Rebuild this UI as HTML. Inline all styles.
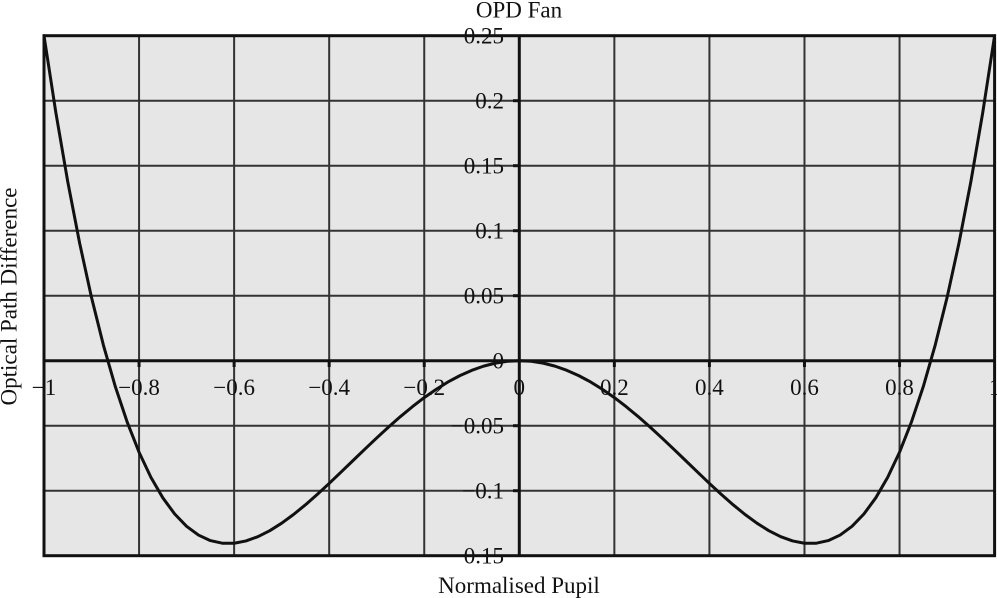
<!DOCTYPE html>
<html>
<head>
<meta charset="utf-8">
<style>
html,body{margin:0;padding:0;background:#fff;}
svg{display:block;}
text{font-family:"Liberation Serif","DejaVu Serif",serif;fill:#111;}
</style>
</head>
<body>
<svg width="997" height="598" viewBox="0 0 997 598" xmlns="http://www.w3.org/2000/svg">
  <rect x="0" y="0" width="997" height="598" fill="#fff"/>
  <!-- plot background -->
  <rect x="44" y="35.7" width="950.6" height="520" fill="#e6e6e6"/>
  <!-- grid -->
  <g stroke="#333" stroke-width="2">
    <line x1="139.06" y1="35.7" x2="139.06" y2="555.7"/>
    <line x1="234.12" y1="35.7" x2="234.12" y2="555.7"/>
    <line x1="329.18" y1="35.7" x2="329.18" y2="555.7"/>
    <line x1="424.24" y1="35.7" x2="424.24" y2="555.7"/>
    <line x1="614.36" y1="35.7" x2="614.36" y2="555.7"/>
    <line x1="709.42" y1="35.7" x2="709.42" y2="555.7"/>
    <line x1="804.48" y1="35.7" x2="804.48" y2="555.7"/>
    <line x1="899.54" y1="35.7" x2="899.54" y2="555.7"/>
    <line x1="44" y1="100.7" x2="994.6" y2="100.7"/>
    <line x1="44" y1="165.7" x2="994.6" y2="165.7"/>
    <line x1="44" y1="230.7" x2="994.6" y2="230.7"/>
    <line x1="44" y1="295.7" x2="994.6" y2="295.7"/>
    <line x1="44" y1="425.7" x2="994.6" y2="425.7"/>
    <line x1="44" y1="490.7" x2="994.6" y2="490.7"/>
  </g>
  <!-- border -->
  <rect x="44" y="35.7" width="950.6" height="520" fill="none" stroke="#111" stroke-width="3"/>
  <!-- axes -->
  <g stroke="#111" stroke-width="3">
    <line x1="44" y1="360.7" x2="994.6" y2="360.7"/>
    <line x1="519.3" y1="35.7" x2="519.3" y2="555.7"/>
  </g>
  <!-- ticks -->
  <g stroke="#111" stroke-width="3">
    <line x1="139.06" y1="360.7" x2="139.06" y2="367"/>
    <line x1="234.12" y1="360.7" x2="234.12" y2="367"/>
    <line x1="329.18" y1="360.7" x2="329.18" y2="367"/>
    <line x1="424.24" y1="360.7" x2="424.24" y2="367"/>
    <line x1="614.36" y1="360.7" x2="614.36" y2="367"/>
    <line x1="709.42" y1="360.7" x2="709.42" y2="367"/>
    <line x1="804.48" y1="360.7" x2="804.48" y2="367"/>
    <line x1="899.54" y1="360.7" x2="899.54" y2="367"/>
    <line x1="513" y1="100.7" x2="519.3" y2="100.7"/>
    <line x1="513" y1="165.7" x2="519.3" y2="165.7"/>
    <line x1="513" y1="230.7" x2="519.3" y2="230.7"/>
    <line x1="513" y1="295.7" x2="519.3" y2="295.7"/>
    <line x1="513" y1="425.7" x2="519.3" y2="425.7"/>
    <line x1="513" y1="490.7" x2="519.3" y2="490.7"/>
  </g>
  <!-- curve W = r^4 - 0.75 r^2 -->
  <polyline fill="none" stroke="#111" stroke-width="3" stroke-linejoin="round" stroke-linecap="round" points="
44.00,35.70 55.88,112.77 67.76,181.78 79.65,243.21 91.53,297.52 103.41,345.15 115.29,386.53 127.18,422.08 139.06,452.22 150.94,477.33 162.82,497.81 174.71,514.02 186.59,526.32 198.47,535.06 210.35,540.58 222.24,543.20 234.12,543.22 246.00,540.95 257.88,536.68 269.77,530.68 281.65,523.20 293.53,514.51 305.41,504.83 317.30,494.40 329.18,483.42 341.06,472.10 352.94,460.63 364.83,449.18 376.71,437.92 388.59,427.00 400.47,416.56 412.36,406.73 424.24,397.62 436.12,389.34 448.00,381.98 459.89,375.62 471.77,370.32 483.65,366.14 495.53,363.13 507.42,361.31 519.30,360.70 531.18,361.31 543.07,363.13 554.95,366.14 566.83,370.32 578.71,375.62 590.60,381.98 602.48,389.34 614.36,397.62 626.24,406.73 638.13,416.56 650.01,427.00 661.89,437.92 673.77,449.18 685.66,460.63 697.54,472.10 709.42,483.42 721.30,494.40 733.19,504.83 745.07,514.51 756.95,523.20 768.83,530.68 780.72,536.68 792.60,540.95 804.48,543.22 816.36,543.20 828.25,540.58 840.13,535.06 852.01,526.32 863.89,514.02 875.78,497.81 887.66,477.33 899.54,452.22 911.42,422.08 923.31,386.53 935.19,345.15 947.07,297.52 958.95,243.21 970.84,181.78 982.72,112.77 994.60,35.70"/>
  <!-- x tick labels -->
  <g font-size="23" text-anchor="middle">
    <text x="44" y="395">−1</text>
    <text x="139.06" y="395">−0.8</text>
    <text x="234.12" y="395">−0.6</text>
    <text x="329.18" y="395">−0.4</text>
    <text x="424.24" y="395">−0.2</text>
    <text x="519.3" y="395">0</text>
    <text x="614.36" y="395">0.2</text>
    <text x="709.42" y="395">0.4</text>
    <text x="804.48" y="395">0.6</text>
    <text x="899.54" y="395">0.8</text>
    <text x="994.6" y="395">1</text>
  </g>
  <!-- y tick labels -->
  <g font-size="23" text-anchor="end">
    <text x="504" y="43.5">0.25</text>
    <text x="504" y="108.5">0.2</text>
    <text x="504" y="173.5">0.15</text>
    <text x="504" y="238.5">0.1</text>
    <text x="504" y="303.5">0.05</text>
    <text x="504" y="368.5">0</text>
    <text x="504" y="433.5">−0.05</text>
    <text x="504" y="498.5">−0.1</text>
    <text x="504" y="563.5">−0.15</text>
  </g>
  <!-- titles -->
  <text x="519" y="17.5" font-size="23" text-anchor="middle">OPD Fan</text>
  <text x="519" y="593" font-size="23" text-anchor="middle">Normalised Pupil</text>
  <text transform="translate(16.5,296.5) rotate(-90)" font-size="23" text-anchor="middle">Optical Path Difference</text>
</svg>
</body>
</html>
